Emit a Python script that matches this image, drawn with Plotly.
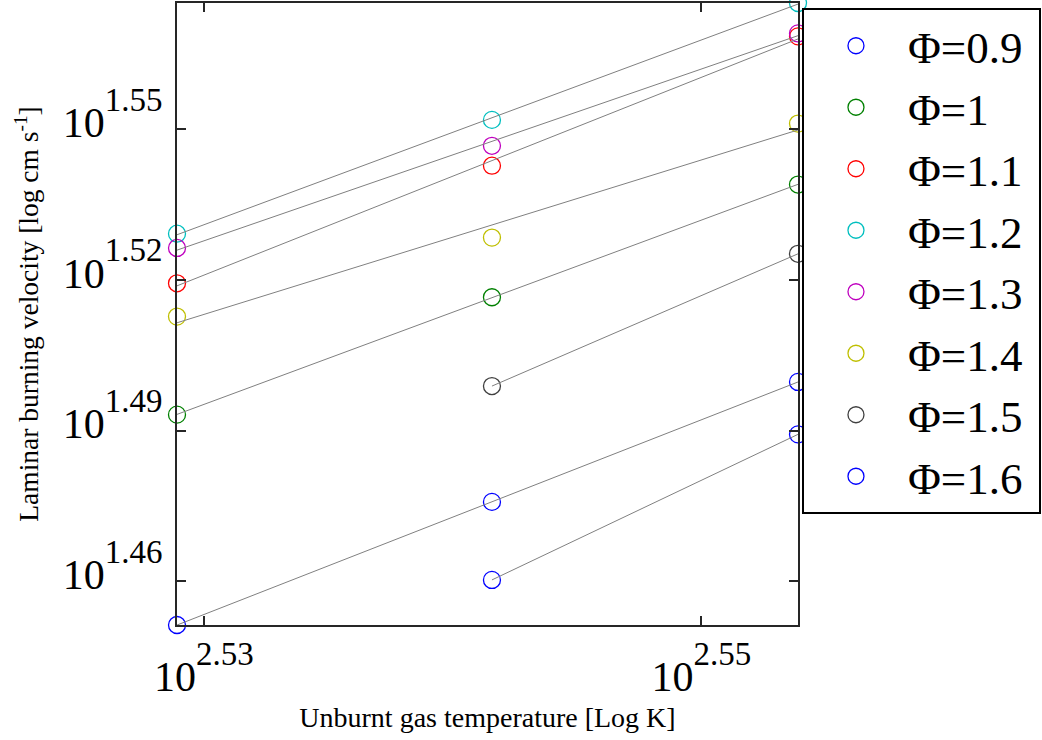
import numpy as np
import plotly.graph_objects as go

# Unburnt gas temperature [K]
temps = [338, 348, 358]

# Laminar burning velocity [cm/s] per equivalence ratio (None = no data)
phi_labels = ["Φ=0.9", "Φ=1", "Φ=1.1", "Φ=1.2", "Φ=1.3", "Φ=1.4", "Φ=1.5", "Φ=1.6"]
v_phi09 = [28.27, 29.91, 31.60]
v_phi10 = [31.13, 32.85, 34.59]
v_phi11 = [33.06, 34.89, 37.02]
v_phi12 = [33.82, 35.63, 37.59]
v_phi13 = [33.60, 35.21, 37.07]
v_phi14 = [32.56, 33.76, 35.57]
v_phi15 = [None, 31.54, 33.51]
v_phi16 = [None, 28.86, 30.85]
series = [v_phi09, v_phi10, v_phi11, v_phi12, v_phi13, v_phi14, v_phi15, v_phi16]

colors = ["rgb(0,0,255)", "rgb(0,128,0)", "rgb(255,0,0)", "rgb(0,191,191)",
          "rgb(191,0,191)", "rgb(191,191,0)", "rgb(64,64,64)", "rgb(0,0,255)"]

x_ticks = [2.53, 2.55]
y_ticks = [1.46, 1.49, 1.52, 1.55]

FONT = "Liberation Serif"


def pow_label(v):
    return ('<span style="font-size:42px">10</span><sup>'
            '<span style="font-size:33px">' + f"{v:.2f}" + '</span></sup>')


fig = go.Figure()

all_y = []
for i, (lab, vals) in enumerate(zip(phi_labels, series)):
    xs = [t for t, v in zip(temps, vals) if v is not None]
    ys = [v for v in vals if v is not None]
    all_y += ys
    fig.add_trace(go.Scatter(
        x=xs, y=ys, mode="markers", name=lab + "\u00a0",
        legendgroup=f"g{i}",
        marker=dict(symbol="circle-open", size=17, color=colors[i],
                    line=dict(width=1.3, color=colors[i])),
        cliponaxis=False,
    ))

# log-log linear fits (gray lines)
for i, vals in enumerate(series):
    xs = np.array([t for t, v in zip(temps, vals) if v is not None], float)
    ys = np.array([v for v in vals if v is not None], float)
    p = np.polyfit(np.log10(xs), np.log10(ys), 1)
    xf = np.array([xs.min(), xs.max()])
    yf = 10 ** np.polyval(p, np.log10(xf))
    fig.add_trace(go.Scatter(
        x=xf, y=yf, mode="lines", showlegend=False, legendgroup=f"g{i}",
        line=dict(color="rgb(128,128,128)", width=1), cliponaxis=False,
        hoverinfo="skip",
    ))

xr = [np.log10(min(temps)), np.log10(max(temps))]
yr = [np.log10(min(all_y)), np.log10(max(all_y))]

axis_common = dict(
    type="log", showgrid=False, zeroline=False,
    showline=True, linecolor="rgb(38,38,38)", linewidth=2, mirror="allticks",
    ticks="inside", ticklen=9, tickwidth=1.5, tickcolor="rgb(38,38,38)",
    tickfont=dict(family=FONT, size=62, color="black"),
)

fig.update_xaxes(
    **axis_common, range=xr,
    tickvals=[10 ** v for v in x_ticks],
    ticktext=[pow_label(v) for v in x_ticks],
    ticklabelstandoff=-10,
    title=dict(text="Unburnt gas temperature [Log K]",
               font=dict(family=FONT, size=28, color="black"), standoff=8),
)
fig.update_yaxes(
    **axis_common, range=yr,
    tickvals=[10 ** v for v in y_ticks],
    ticktext=[pow_label(v) for v in y_ticks],
    ticklabelshift=-14,
    title=dict(text="Laminar burning velocity [log cm s<sup>-1</sup>]",
               font=dict(family=FONT, size=27.5, color="black"), standoff=16),
)

fig.update_layout(
    width=1042, height=740,
    margin=dict(l=177, r=244, t=3, b=115, autoexpand=False),
    paper_bgcolor="white", plot_bgcolor="white",
    showlegend=True,
    legend=dict(
        x=1.0064, y=0.992, xanchor="left", yanchor="top",
        bordercolor="black", borderwidth=2, bgcolor="white",
        font=dict(family=FONT, size=45, color="black"),
        itemwidth=94, tracegroupgap=0,
    ),
)

fig.write_html("out.html")
